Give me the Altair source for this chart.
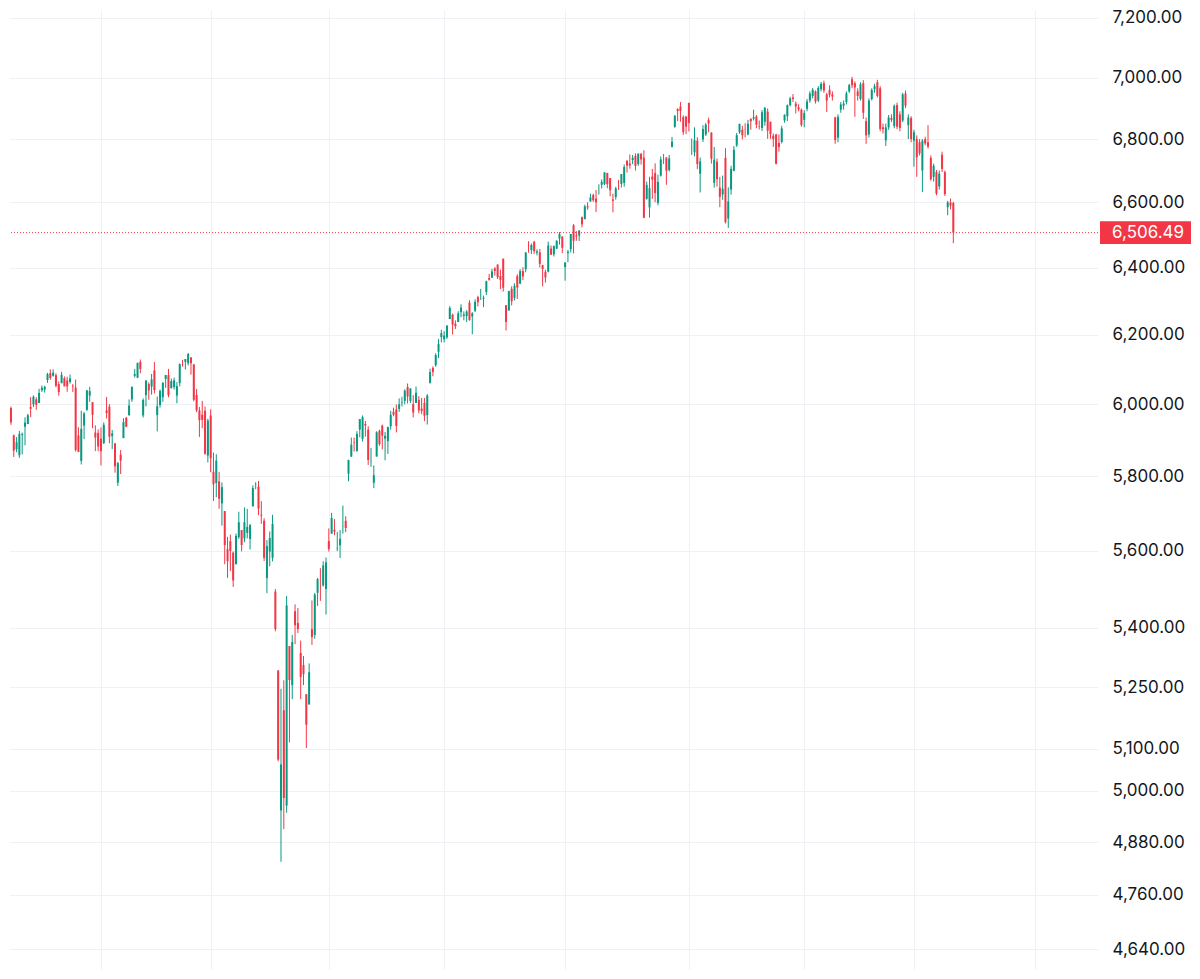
import altair as alt
import pandas as pd

# Daily candles (open, high, low, close), one list per month, 11 Nov 2024 -> 20 Mar 2026
nov_2024 = [
    (6008.9, 6017.3, 5986.7, 6001.4), (6003.6, 6009.9, 5960.1, 5984.0), (5985.8, 6008.2, 5965.9, 5985.4),
    (5989.6, 5993.9, 5942.3, 5949.2), (5912.8, 5915.3, 5853.0, 5870.6), (5874.2, 5908.1, 5865.9, 5893.6),
    (5857.8, 5925.4, 5850.6, 5917.0), (5914.3, 5920.7, 5860.2, 5917.1), (5937.1, 5963.4, 5885.3, 5948.7),
    (5944.4, 5972.9, 5944.4, 5969.3), (5992.3, 6020.8, 5963.9, 5987.4), (6000.0, 6025.4, 5992.3, 6021.6),
    (6014.1, 6020.2, 5984.9, 5998.7), (6003.9, 6044.2, 6003.9, 6032.4),
]
dec_2024 = [
    (6040.1, 6053.6, 6035.3, 6047.2), (6042.0, 6052.7, 6033.4, 6049.9), (6069.4, 6089.8, 6061.1, 6086.5),
    (6089.3, 6100.0, 6069.9, 6075.1), (6081.4, 6099.9, 6079.0, 6090.3), (6083.0, 6088.5, 6048.6, 6052.9),
    (6057.6, 6065.4, 6024.6, 6034.9), (6060.2, 6092.6, 6060.2, 6084.2), (6074.3, 6079.7, 6051.3, 6051.3),
    (6068.0, 6078.6, 6035.8, 6051.1), (6063.8, 6085.2, 6059.1, 6074.1), (6052.6, 6057.7, 6035.2, 6050.6),
    (6047.7, 6070.7, 5867.8, 5872.2), (5912.7, 5935.5, 5866.1, 5867.1), (5842.0, 5982.1, 5832.3, 5930.9),
    (5940.3, 5978.3, 5902.6, 5974.1), (5984.7, 6040.1, 5981.4, 6040.0), (6025.0, 6049.8, 6007.4, 6037.6),
    (6006.2, 6006.2, 5933.0, 5970.8), (5920.7, 5940.8, 5869.2, 5906.9), (5919.7, 5929.7, 5868.9, 5881.6),
]
jan_2025 = [
    (5903.3, 5935.1, 5829.5, 5868.6), (5891.1, 5949.3, 5888.7, 5942.5), (5982.8, 6021.0, 5960.0, 5975.4),
    (5993.3, 6000.7, 5890.7, 5909.0), (5910.7, 5927.9, 5874.8, 5918.3), (5890.7, 5890.7, 5809.6, 5827.0),
    (5782.3, 5838.8, 5773.3, 5836.2), (5859.2, 5871.9, 5805.9, 5842.9), (5905.2, 5960.6, 5905.2, 5949.9),
    (5961.9, 5964.7, 5935.4, 5937.3), (5969.0, 6014.0, 5969.0, 5996.7), (6014.1, 6051.5, 6006.9, 6049.2),
    (6081.4, 6100.8, 6076.1, 6086.4), (6076.3, 6118.7, 6074.7, 6118.7), (6121.4, 6128.2, 6088.7, 6101.2),
    (5969.0, 6017.2, 5962.9, 6012.3), (6026.0, 6069.1, 5994.2, 6067.7), (6057.7, 6062.8, 6013.0, 6039.3),
    (6050.8, 6086.6, 6027.5, 6071.2), (6096.8, 6120.9, 6030.9, 6040.5),
]
feb_2025 = [
    (5969.7, 6022.1, 5923.9, 5994.6), (5998.1, 6042.5, 5990.9, 6037.9), (6020.5, 6062.9, 6007.1, 6061.5),
    (6072.2, 6084.0, 6046.8, 6083.6), (6083.1, 6101.3, 6020.0, 6026.0), (6046.4, 6073.4, 6044.8, 6066.4),
    (6049.3, 6076.3, 6042.3, 6068.5), (6025.1, 6063.2, 6003.0, 6052.0), (6060.6, 6116.9, 6051.0, 6115.1),
    (6115.5, 6127.5, 6107.6, 6114.6), (6121.6, 6129.6, 6099.5, 6129.6), (6117.8, 6147.4, 6111.2, 6144.2),
    (6134.5, 6134.5, 6084.6, 6117.5), (6114.1, 6114.8, 6008.6, 6013.1), (6026.7, 6043.7, 5977.8, 5983.3),
    (5982.7, 5992.7, 5908.5, 5955.3), (5970.9, 6009.8, 5932.7, 5956.1), (5981.9, 5993.7, 5858.8, 5861.6),
    (5856.7, 5959.4, 5837.7, 5954.5),
]
mar_2025 = [
    (5968.3, 5986.1, 5810.9, 5849.7), (5812.0, 5865.1, 5732.6, 5778.2), (5781.4, 5860.6, 5742.4, 5842.6),
    (5785.9, 5812.1, 5711.6, 5738.5), (5726.0, 5783.0, 5666.3, 5770.2), (5705.4, 5705.4, 5564.0, 5614.6),
    (5603.7, 5636.3, 5528.4, 5572.1), (5624.8, 5642.2, 5546.1, 5599.3), (5594.5, 5597.8, 5504.7, 5521.5),
    (5563.9, 5645.3, 5563.9, 5638.9), (5635.6, 5703.5, 5631.1, 5675.1), (5654.5, 5654.5, 5597.8, 5614.7),
    (5632.4, 5715.3, 5622.2, 5675.3), (5646.9, 5711.2, 5632.3, 5662.9), (5630.7, 5670.8, 5603.1, 5667.6),
    (5718.1, 5775.1, 5718.1, 5767.6), (5775.9, 5783.8, 5764.6, 5776.7), (5771.7, 5786.9, 5694.2, 5712.2),
    (5695.6, 5732.3, 5670.9, 5693.3), (5679.4, 5685.9, 5572.4, 5580.9), (5527.9, 5627.6, 5488.7, 5611.9),
]
apr_2025 = [
    (5597.5, 5650.6, 5558.5, 5633.1), (5580.8, 5695.3, 5571.5, 5671.0), (5492.7, 5499.5, 5390.8, 5396.5),
    (5292.1, 5292.1, 5069.9, 5074.1), (4953.8, 5246.6, 4835.0, 5062.3), (5193.6, 5267.5, 4910.4, 4982.8),
    (4965.3, 5481.3, 4948.4, 5456.9), (5353.2, 5353.2, 5115.3, 5268.1), (5255.6, 5381.5, 5220.8, 5363.4),
    (5442.0, 5459.5, 5358.0, 5406.0), (5412.0, 5450.4, 5386.4, 5396.6), (5335.8, 5367.2, 5220.8, 5275.7),
    (5305.5, 5328.3, 5255.6, 5282.7), (5232.9, 5232.9, 5101.6, 5158.2), (5207.7, 5309.6, 5207.7, 5287.8),
    (5395.9, 5469.7, 5356.2, 5375.9), (5381.4, 5489.4, 5372.0, 5484.8), (5489.7, 5528.1, 5455.9, 5525.2),
    (5529.2, 5553.7, 5468.6, 5528.8), (5508.9, 5572.0, 5505.7, 5560.8), (5499.4, 5581.8, 5433.2, 5569.1),
]
may_2025 = [
    (5625.1, 5658.9, 5597.4, 5604.1), (5645.1, 5700.7, 5644.6, 5686.7), (5655.3, 5683.7, 5640.5, 5650.4),
    (5605.9, 5649.6, 5598.6, 5606.9), (5614.0, 5654.5, 5580.5, 5631.3), (5663.3, 5720.1, 5644.9, 5663.9),
    (5679.1, 5691.2, 5648.9, 5659.9), (5807.0, 5845.3, 5786.1, 5844.2), (5854.0, 5906.6, 5853.0, 5886.6),
    (5893.6, 5906.3, 5868.0, 5892.6), (5869.4, 5924.6, 5867.4, 5916.9), (5929.1, 5958.6, 5907.4, 5958.4),
    (5902.9, 5968.6, 5895.7, 5963.6), (5944.7, 5953.1, 5909.3, 5940.5), (5928.9, 5938.4, 5830.9, 5844.6),
    (5841.3, 5878.1, 5825.8, 5842.0), (5781.9, 5829.5, 5767.4, 5802.8), (5854.1, 5924.4, 5854.1, 5921.5),
    (5925.6, 5929.0, 5883.8, 5888.6), (5939.9, 5943.1, 5873.8, 5912.2), (5903.7, 5922.1, 5843.7, 5911.7),
]
jun_2025 = [
    (5896.7, 5937.4, 5861.4, 5935.9), (5938.6, 5981.4, 5929.0, 5970.4), (5978.9, 5990.5, 5966.1, 5970.8),
    (5985.7, 5999.7, 5921.2, 5939.3), (5987.1, 6016.9, 5978.6, 6000.4), (6004.6, 6021.3, 5994.2, 6005.9),
    (6009.9, 6043.0, 6000.3, 6038.8), (6049.4, 6059.4, 6002.3, 6022.2), (6009.9, 6045.4, 6003.9, 6045.3),
    (6000.6, 6026.2, 5963.2, 5977.0), (6004.0, 6050.8, 6004.0, 6033.1), (6012.4, 6023.3, 5974.8, 5982.7),
    (5987.9, 6018.3, 5971.9, 5980.9), (6004.0, 6018.2, 5952.6, 5967.8), (5969.7, 6028.8, 5943.2, 6025.2),
    (6061.2, 6101.8, 6059.2, 6092.2), (6104.2, 6108.5, 6080.1, 6092.2), (6112.1, 6146.5, 6107.3, 6141.0),
    (6150.7, 6187.7, 6132.4, 6173.1), (6193.4, 6215.1, 6178.0, 6205.0),
]
jul_2025 = [
    (6187.3, 6210.8, 6178.0, 6198.0), (6193.0, 6227.6, 6188.3, 6227.4), (6246.5, 6284.7, 6246.5, 6279.4),
    (6259.8, 6262.2, 6201.0, 6230.0), (6233.0, 6242.7, 6217.3, 6225.5), (6237.6, 6269.8, 6237.6, 6263.3),
    (6266.9, 6290.2, 6251.7, 6280.5), (6255.7, 6269.1, 6242.8, 6259.8), (6255.2, 6272.6, 6237.4, 6268.6),
    (6295.1, 6302.0, 6241.5, 6243.8), (6254.0, 6266.7, 6201.6, 6263.7), (6270.7, 6304.6, 6267.6, 6297.4),
    (6311.4, 6315.6, 6284.1, 6296.8), (6304.7, 6336.1, 6303.8, 6305.6), (6306.6, 6316.1, 6281.7, 6309.6),
    (6326.9, 6360.6, 6317.5, 6358.9), (6368.6, 6381.3, 6360.6, 6363.4), (6370.0, 6395.8, 6368.5, 6388.6),
    (6397.7, 6401.1, 6375.8, 6389.8), (6409.3, 6409.3, 6365.6, 6370.9), (6374.4, 6394.0, 6335.5, 6362.9),
    (6427.0, 6427.0, 6327.9, 6339.4),
]
aug_2025 = [
    (6287.3, 6287.3, 6212.7, 6238.0), (6271.7, 6330.0, 6271.7, 6329.9), (6336.0, 6343.9, 6286.9, 6299.2),
    (6309.3, 6352.8, 6301.8, 6345.1), (6374.3, 6379.9, 6305.9, 6340.0), (6351.8, 6395.2, 6350.7, 6389.5),
    (6389.7, 6401.1, 6362.1, 6373.5), (6395.2, 6446.5, 6385.8, 6445.8), (6466.9, 6480.3, 6445.0, 6466.6),
    (6453.4, 6473.1, 6441.1, 6468.5), (6478.4, 6481.3, 6441.3, 6449.8), (6445.0, 6455.4, 6437.1, 6449.2),
    (6446.4, 6456.6, 6400.2, 6411.4), (6407.3, 6408.1, 6343.9, 6395.8), (6387.1, 6393.5, 6354.9, 6370.2),
    (6387.8, 6478.9, 6385.6, 6466.9), (6457.7, 6466.9, 6438.1, 6439.3), (6440.2, 6466.6, 6433.6, 6465.9),
    (6457.3, 6483.2, 6456.6, 6481.4), (6488.5, 6508.2, 6469.9, 6501.9), (6494.4, 6495.0, 6444.0, 6460.3),
]
sep_2025 = [
    (6401.5, 6416.3, 6360.6, 6415.5), (6443.6, 6453.7, 6416.2, 6448.3), (6456.0, 6502.5, 6445.8, 6502.1),
    (6529.0, 6532.7, 6443.0, 6481.5), (6498.1, 6511.1, 6481.4, 6495.2), (6497.6, 6513.8, 6480.8, 6512.6),
    (6554.0, 6555.9, 6522.6, 6532.0), (6547.9, 6592.9, 6547.9, 6587.5), (6588.0, 6600.1, 6577.2, 6584.3),
    (6602.7, 6627.0, 6602.7, 6615.3), (6623.1, 6627.4, 6601.7, 6606.8), (6611.9, 6638.5, 6569.9, 6600.4),
    (6631.9, 6656.4, 6624.4, 6632.0), (6655.3, 6671.8, 6643.2, 6664.4), (6657.4, 6695.0, 6654.4, 6693.8),
    (6692.1, 6692.9, 6644.4, 6656.9), (6676.3, 6676.3, 6619.2, 6638.0), (6609.4, 6626.9, 6569.2, 6604.7),
    (6616.7, 6648.7, 6608.6, 6643.7), (6661.6, 6670.5, 6638.9, 6661.2), (6658.0, 6689.1, 6646.7, 6688.5),
]
oct_2025 = [
    (6661.0, 6718.9, 6649.1, 6711.2), (6731.3, 6731.9, 6693.6, 6715.4), (6722.1, 6750.9, 6705.7, 6715.8),
    (6733.3, 6749.5, 6719.8, 6740.3), (6746.0, 6754.5, 6700.0, 6714.6), (6720.3, 6753.7, 6714.8, 6753.7),
    (6752.7, 6755.9, 6718.7, 6735.1), (6740.8, 6764.2, 6550.8, 6552.5), (6611.3, 6664.9, 6608.6, 6654.7),
    (6584.6, 6680.4, 6552.6, 6644.3), (6681.1, 6705.2, 6611.0, 6671.1), (6691.8, 6722.7, 6600.5, 6629.1),
    (6598.4, 6686.8, 6591.2, 6664.0), (6684.0, 6744.4, 6681.0, 6735.1), (6736.0, 6752.4, 6720.6, 6735.4),
    (6741.2, 6742.1, 6655.1, 6699.4), (6701.4, 6749.2, 6696.9, 6738.4), (6775.4, 6807.1, 6772.8, 6791.7),
    (6839.6, 6877.6, 6836.3, 6875.2), (6897.0, 6899.9, 6858.1, 6890.9), (6905.2, 6920.3, 6856.0, 6890.6),
    (6871.0, 6876.6, 6813.6, 6822.3), (6873.3, 6873.3, 6816.3, 6840.2),
]
nov_2025 = [
    (6917.4, 6917.4, 6824.4, 6852.0), (6771.0, 6802.0, 6749.5, 6771.6), (6758.0, 6838.0, 6745.0, 6796.3),
    (6795.0, 6806.0, 6705.0, 6720.3), (6690.0, 6741.0, 6631.0, 6728.8), (6799.0, 6845.0, 6791.0, 6832.4),
    (6815.0, 6852.0, 6810.0, 6846.6), (6861.0, 6869.0, 6822.0, 6850.9), (6821.0, 6822.0, 6722.0, 6737.5),
    (6661.0, 6775.0, 6646.0, 6734.1), (6728.0, 6738.0, 6649.0, 6672.4), (6646.0, 6680.0, 6585.0, 6617.3),
    (6625.0, 6684.0, 6608.0, 6642.2), (6740.0, 6771.0, 6535.0, 6538.8), (6550.0, 6647.0, 6521.0, 6603.0),
    (6640.0, 6715.0, 6624.0, 6705.1), (6699.0, 6778.0, 6698.0, 6765.9), (6780.0, 6820.0, 6775.0, 6812.6),
    (6822.0, 6849.5, 6817.0, 6849.1),
]
dec_2025 = [
    (6830.0, 6843.0, 6799.0, 6812.6), (6830.0, 6851.0, 6806.0, 6829.4), (6815.0, 6862.0, 6812.0, 6849.7),
    (6866.0, 6866.0, 6830.0, 6857.1), (6866.0, 6895.0, 6860.0, 6870.4), (6873.0, 6878.0, 6835.0, 6846.5),
    (6842.0, 6860.0, 6831.0, 6840.5), (6836.0, 6894.0, 6826.0, 6886.7), (6856.0, 6904.0, 6843.0, 6901.0),
    (6889.0, 6899.0, 6801.0, 6827.4), (6856.0, 6856.0, 6801.0, 6816.5), (6811.0, 6818.0, 6775.0, 6800.3),
    (6815.0, 6817.0, 6719.0, 6721.4), (6788.0, 6815.0, 6760.0, 6774.8), (6791.0, 6843.0, 6786.0, 6834.5),
    (6860.0, 6880.0, 6853.0, 6878.5), (6874.0, 6912.0, 6858.0, 6909.8), (6910.0, 6937.0, 6906.0, 6932.1),
    (6935.0, 6946.0, 6920.0, 6929.9), (6915.0, 6922.0, 6883.0, 6905.7), (6903.0, 6913.0, 6890.0, 6896.2),
    (6895.0, 6899.0, 6840.0, 6845.5),
]
jan_2026 = [
    (6862.0, 6893.0, 6838.0, 6884.0), (6898.0, 6930.0, 6890.0, 6922.0), (6925.0, 6955.0, 6918.0, 6948.0),
    (6940.0, 6966.0, 6932.0, 6960.0), (6955.0, 6958.0, 6915.0, 6922.0), (6925.0, 6972.0, 6920.0, 6966.0),
    (6962.0, 6986.0, 6955.0, 6980.0), (6982.0, 6990.0, 6950.0, 6958.0), (6945.0, 6950.0, 6888.0, 6925.0),
    (6960.0, 6975.0, 6935.0, 6944.0), (6945.0, 6955.0, 6925.0, 6938.0), (6870.0, 6872.0, 6785.0, 6797.0),
    (6805.0, 6880.0, 6790.0, 6872.0), (6895.0, 6920.0, 6885.0, 6912.0), (6908.0, 6925.0, 6895.0, 6915.0),
    (6920.0, 6955.0, 6912.0, 6948.0), (6955.0, 6980.0, 6950.0, 6976.0), (6995.0, 7003.0, 6965.0, 6975.0),
    (6982.0, 6988.0, 6872.0, 6968.0), (6955.0, 6965.0, 6925.0, 6940.0),
]
feb_2026 = [
    (6930.0, 6985.0, 6925.0, 6978.0), (6982.0, 6992.0, 6865.0, 6885.0), (6858.0, 6870.0, 6785.0, 6812.0),
    (6815.0, 6932.0, 6805.0, 6925.0), (6930.0, 6965.0, 6925.0, 6960.0), (6962.0, 6980.0, 6950.0, 6972.0),
    (6985.0, 6993.0, 6935.0, 6940.0), (6965.0, 6972.0, 6825.0, 6833.0), (6838.0, 6850.0, 6818.0, 6832.0),
    (6796.0, 6850.0, 6778.0, 6838.0), (6838.0, 6878.0, 6830.0, 6870.0), (6868.0, 6880.0, 6855.0, 6862.0),
    (6842.0, 6912.0, 6835.0, 6908.0), (6910.0, 6918.0, 6832.0, 6840.0), (6880.0, 6890.0, 6825.0, 6836.0),
    (6860.0, 6950.0, 6855.0, 6945.0), (6948.0, 6958.0, 6900.0, 6908.0), (6845.0, 6880.0, 6800.0, 6870.0),
    (6868.0, 6874.0, 6790.0, 6800.0),
]
mar_2026 = [
    (6795.0, 6830.0, 6712.0, 6822.0), (6800.0, 6812.0, 6680.0, 6742.0), (6790.0, 6800.0, 6748.0, 6755.0),
    (6700.0, 6800.0, 6632.0, 6795.0), (6800.0, 6808.0, 6780.0, 6786.0), (6790.0, 6845.0, 6770.0, 6776.0),
    (6740.0, 6748.0, 6668.0, 6672.0), (6680.0, 6722.0, 6665.0, 6715.0), (6695.0, 6702.0, 6622.0, 6628.0),
    (6650.0, 6700.0, 6640.0, 6690.0), (6750.0, 6760.0, 6695.0, 6705.0), (6695.0, 6700.0, 6620.0, 6626.0),
    (6585.0, 6605.0, 6560.0, 6600.0), (6600.0, 6612.0, 6578.0, 6590.0), (6598.0, 6602.0, 6474.0, 6506.49),
]

months = [nov_2024, dec_2024, jan_2025, feb_2025, mar_2025, apr_2025, may_2025, jun_2025,
          jul_2025, aug_2025, sep_2025, oct_2025, nov_2025, dec_2025, jan_2026, feb_2026, mar_2026]

# trading-day index of the first session of every second month (vertical grid)
month_grid_idx = [35, 74, 116, 157, 200, 244, 285, 324, 367]
price_ticks = [4640, 4760, 4880, 5000, 5100, 5250, 5400, 5600, 5800,
               6000, 6200, 6400, 6600, 6800, 7000, 7200]

UP = "#089981"
DOWN = "#F23645"
FONT = "Inter"
GRID = "#eff1f4"

rows = [c for m in months for c in m]
df = pd.DataFrame(rows, columns=["open", "high", "low", "close"])
df["i"] = range(len(df))
df["dir"] = ["up" if c >= o else "down" for o, c in zip(df["open"], df["close"])]
last = df.tail(1)

W, H = 1089, 960
xscale = alt.Scale(domain=[2.311, 389.43], nice=False, zero=False, padding=0)
yscale = alt.Scale(type="log", domain=[4594.4, 7227.23], nice=False, zero=False, padding=0)
color = alt.Color("dir:N", scale=alt.Scale(domain=["up", "down"], range=[UP, DOWN]), legend=None)

xaxis = alt.Axis(values=month_grid_idx, labels=False, ticks=False, domain=False,
                 grid=True, gridColor=GRID, gridWidth=1, title=None)
yaxis = alt.Axis(orient="right", values=price_ticks, format=",.2f", labelFont=FONT,
                 labelFontSize=17, labelColor="#131722", labelPadding=14, labelAlign="left",
                 ticks=False, domain=False, grid=True, gridColor=GRID, gridWidth=1, title=None)

X = alt.X("i:Q", scale=xscale, axis=xaxis)

base = alt.Chart(df)

wicks = base.mark_rule(strokeWidth=1, clip=True).encode(
    x=X,
    y=alt.Y("low:Q", scale=yscale, axis=yaxis),
    y2="high:Q",
    color=color,
)
bodies = base.mark_bar(size=2, clip=True).encode(
    x=X,
    y=alt.Y("open:Q", scale=yscale, axis=yaxis),
    y2="close:Q",
    color=color,
)
price_line = alt.Chart(last).mark_rule(color=DOWN, strokeWidth=1, strokeDash=[1, 2]).encode(
    y=alt.Y("close:Q", scale=yscale, axis=yaxis)
)
box_shape = "M-1,-0.2527 L1,-0.2527 L1,0.2527 L-1,0.2527 Z"
price_box = alt.Chart(last).mark_point(shape=box_shape, size=8281, filled=True, fill=DOWN,
                                        opacity=1, strokeWidth=0).encode(
    x=alt.value(1136.5),
    y=alt.Y("close:Q", scale=yscale, axis=yaxis),
)
price_text = alt.Chart(last).mark_text(color="white", font=FONT, fontSize=17,
                                       align="left", baseline="middle").encode(
    x=alt.value(1103),
    y=alt.Y("close:Q", scale=yscale, axis=yaxis),
    text=alt.Text("close:Q", format=",.2f"),
)

chart = alt.layer(wicks, bodies, price_line, price_box, price_text).properties(
    width=W, height=H, padding=0, background="white"
).configure_view(stroke=None)

chart.save("out.html", embed_options={"renderer": "svg", "actions": False})
